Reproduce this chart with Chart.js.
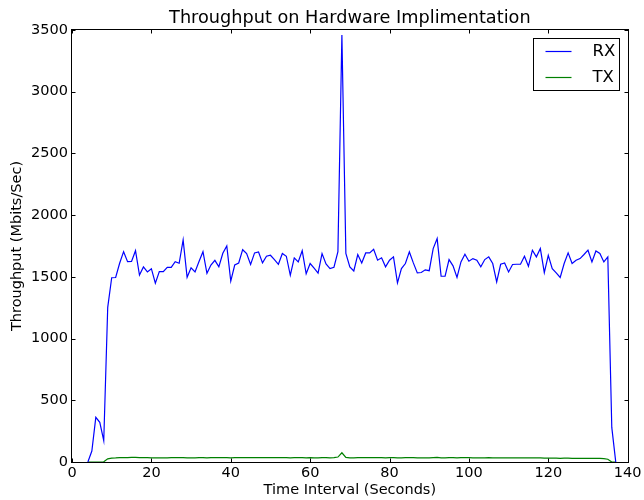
<!DOCTYPE html>
<html>
<head>
<meta charset="utf-8">
<script src="https://cdn.jsdelivr.net/npm/chart.js@4"></script>
<style>
  body { margin: 0; background: #fff; }
</style>
</head>
<body>
<canvas id="myChart" width="644" height="500"></canvas>
<script>
// seconds 4..137
const seconds = [];
for (let s = 4; s <= 137; s++) seconds.push(s);

const rx = [
  0, 89, 362, 321, 173, 1253, 1493, 1495, 1610, 1704,
  1623, 1625, 1712, 1515, 1580, 1540, 1566, 1448, 1542, 1542,
  1577, 1577, 1623, 1610, 1799, 1496, 1574, 1540, 1625, 1704,
  1529, 1596, 1634, 1582, 1691, 1750, 1466, 1596, 1612, 1720,
  1689, 1600, 1694, 1702, 1613, 1667, 1675, 1640, 1602, 1689,
  1667, 1513, 1654, 1621, 1712, 1525, 1608, 1570, 1530, 1689,
  1605, 1567, 1578, 1705, 3460, 1689, 1581, 1548, 1681, 1613,
  1694, 1694, 1724, 1635, 1654, 1581, 1635, 1662, 1451, 1567,
  1608, 1702, 1613, 1532, 1535, 1557, 1550, 1729, 1810, 1505,
  1505, 1640, 1589, 1495, 1621, 1683, 1627, 1648, 1635, 1581,
  1640, 1662, 1608, 1459, 1602, 1613, 1540, 1600, 1602, 1602,
  1667, 1586, 1716, 1662, 1729, 1535, 1675, 1567, 1532, 1495,
  1608, 1694, 1608, 1635, 1648, 1681, 1716, 1621, 1710, 1689,
  1621, 1662, 280, 0
];

const tx = [
  0, 0, 0, 0, 2, 26, 32, 33, 35, 36,
  36, 37, 37, 36, 35, 35, 34, 33, 34, 34,
  34, 35, 35, 35, 36, 34, 34, 34, 35, 36,
  34, 35, 35, 35, 36, 36, 34, 35, 35, 36,
  36, 35, 36, 36, 35, 35, 35, 35, 35, 36,
  35, 34, 35, 35, 36, 34, 35, 34, 34, 35,
  35, 34, 35, 40, 75, 38, 34, 34, 35, 35,
  36, 36, 36, 35, 35, 34, 35, 35, 33, 34,
  35, 36, 35, 34, 34, 34, 34, 36, 37, 34,
  34, 35, 35, 34, 35, 35, 35, 34, 34, 34,
  34, 35, 34, 33, 34, 34, 33, 34, 34, 34,
  33, 33, 34, 33, 33, 32, 32, 31, 31, 30,
  31, 31, 30, 30, 30, 30, 30, 29, 29, 29,
  28, 22, 0, 0
];

const xTicks = { min: 0, max: 140, step: 20 };
const yTicks = { min: 0, max: 3500, step: 500 };
const chartTitle = "Throughput on Hardware Implimentation";

const font = "'DejaVu Sans', sans-serif";

// inward ticks on all four sides plus the box, title centred over the axes
const frameTicks = {
  id: "frameTicks",
  afterDatasetsDraw(chart) {
    const { ctx, chartArea: a, scales } = chart;
    const L = Math.round(a.left) - 0.5, T = Math.round(a.top) - 0.5;
    const R = Math.round(a.right) + 0.5, B = Math.round(a.bottom) + 0.5;
    ctx.save();
    ctx.strokeStyle = "#000";
    ctx.lineWidth = 1;
    ctx.beginPath();
    scales.x.ticks.forEach((t) => {
      const p = Math.round(scales.x.getPixelForValue(t.value)) + 0.5;
      ctx.moveTo(p, B); ctx.lineTo(p, B - 4);
      ctx.moveTo(p, T); ctx.lineTo(p, T + 4);
    });
    scales.y.ticks.forEach((t) => {
      const p = Math.round(scales.y.getPixelForValue(t.value)) + 0.5;
      ctx.moveTo(L, p); ctx.lineTo(L + 4, p);
      ctx.moveTo(R, p); ctx.lineTo(R - 4, p);
    });
    ctx.stroke();
    ctx.strokeRect(L, T, R - L, B - T);

    ctx.fillStyle = "#000";
    ctx.font = "17.7px " + font;
    ctx.textAlign = "center";
    ctx.textBaseline = "alphabetic";
    ctx.fillText(chartTitle, (a.left + a.right) / 2, 22.7);
    ctx.restore();
  },
};

// matplotlib-like legend box in the top right corner
const boxLegend = {
  id: "boxLegend",
  afterDraw(chart) {
    const { ctx, chartArea: a } = chart;
    const left = Math.round(a.right - 95) + 0.5;
    const top = Math.round(a.top + 8) + 0.5;
    const w = 86, h = 52;
    ctx.save();
    ctx.fillStyle = "#fff";
    ctx.fillRect(left, top, w, h);
    ctx.strokeStyle = "#000";
    ctx.lineWidth = 1;
    ctx.strokeRect(left, top, w, h);
    ctx.font = "16.5px " + font;
    ctx.textBaseline = "middle";
    chart.data.datasets.forEach((ds, i) => {
      const yy = top + 13 + i * 26;
      ctx.strokeStyle = ds.borderColor;
      ctx.lineWidth = 1.2;
      ctx.beginPath();
      ctx.moveTo(left + 12, yy);
      ctx.lineTo(left + 38, yy);
      ctx.stroke();
      ctx.fillStyle = "#000";
      ctx.fillText(ds.label, left + 59, yy + 0.5);
    });
    ctx.restore();
  },
};

const ctx = document.getElementById("myChart");
new Chart(ctx, {
  type: "line",
  data: {
    datasets: [
      {
        label: "RX",
        data: seconds.map((s, i) => ({ x: s, y: rx[i] })),
        borderColor: "#0000ff",
        borderWidth: 1.2,
        pointRadius: 0,
        tension: 0,
      },
      {
        label: "TX",
        data: seconds.map((s, i) => ({ x: s, y: tx[i] })),
        borderColor: "#008000",
        borderWidth: 1.2,
        pointRadius: 0,
        tension: 0,
      },
    ],
  },
  options: {
    responsive: false,
    animation: false,
    layout: { padding: { right: 16, top: 30 } },
    plugins: {
      legend: { display: false },
      tooltip: { enabled: false },
      title: { display: false },
    },
    scales: {
      x: {
        type: "linear",
        min: xTicks.min,
        max: xTicks.max,
        afterFit: (s) => { s.height = 38; },
        grid: { display: false, drawTicks: false },
        border: { display: false },
        ticks: {
          stepSize: xTicks.step,
          color: "#000",
          padding: 2.5,
          maxRotation: 0,
          font: { family: font, size: 14.5 },
          callback: (v) => String(v),
        },
        title: {
          display: true,
          text: "Time Interval (Seconds)",
          color: "#000",
          font: { family: font, size: 14.5 },
          padding: { top: 0, bottom: 1.3 },
        },
      },
      y: {
        min: yTicks.min,
        max: yTicks.max,
        afterFit: (s) => { s.width = 72; },
        grid: { display: false, drawTicks: false },
        border: { display: false },
        ticks: {
          stepSize: yTicks.step,
          color: "#000",
          padding: 4,
          font: { family: font, size: 14.5 },
          callback: (v) => String(v),
        },
        title: {
          display: true,
          text: "Throughput (Mbits/Sec)",
          color: "#000",
          font: { family: font, size: 14.5 },
          padding: { top: 9, bottom: 0 },
        },
      },
    },
  },
  plugins: [frameTicks, boxLegend],
});
</script>
</body>
</html>
